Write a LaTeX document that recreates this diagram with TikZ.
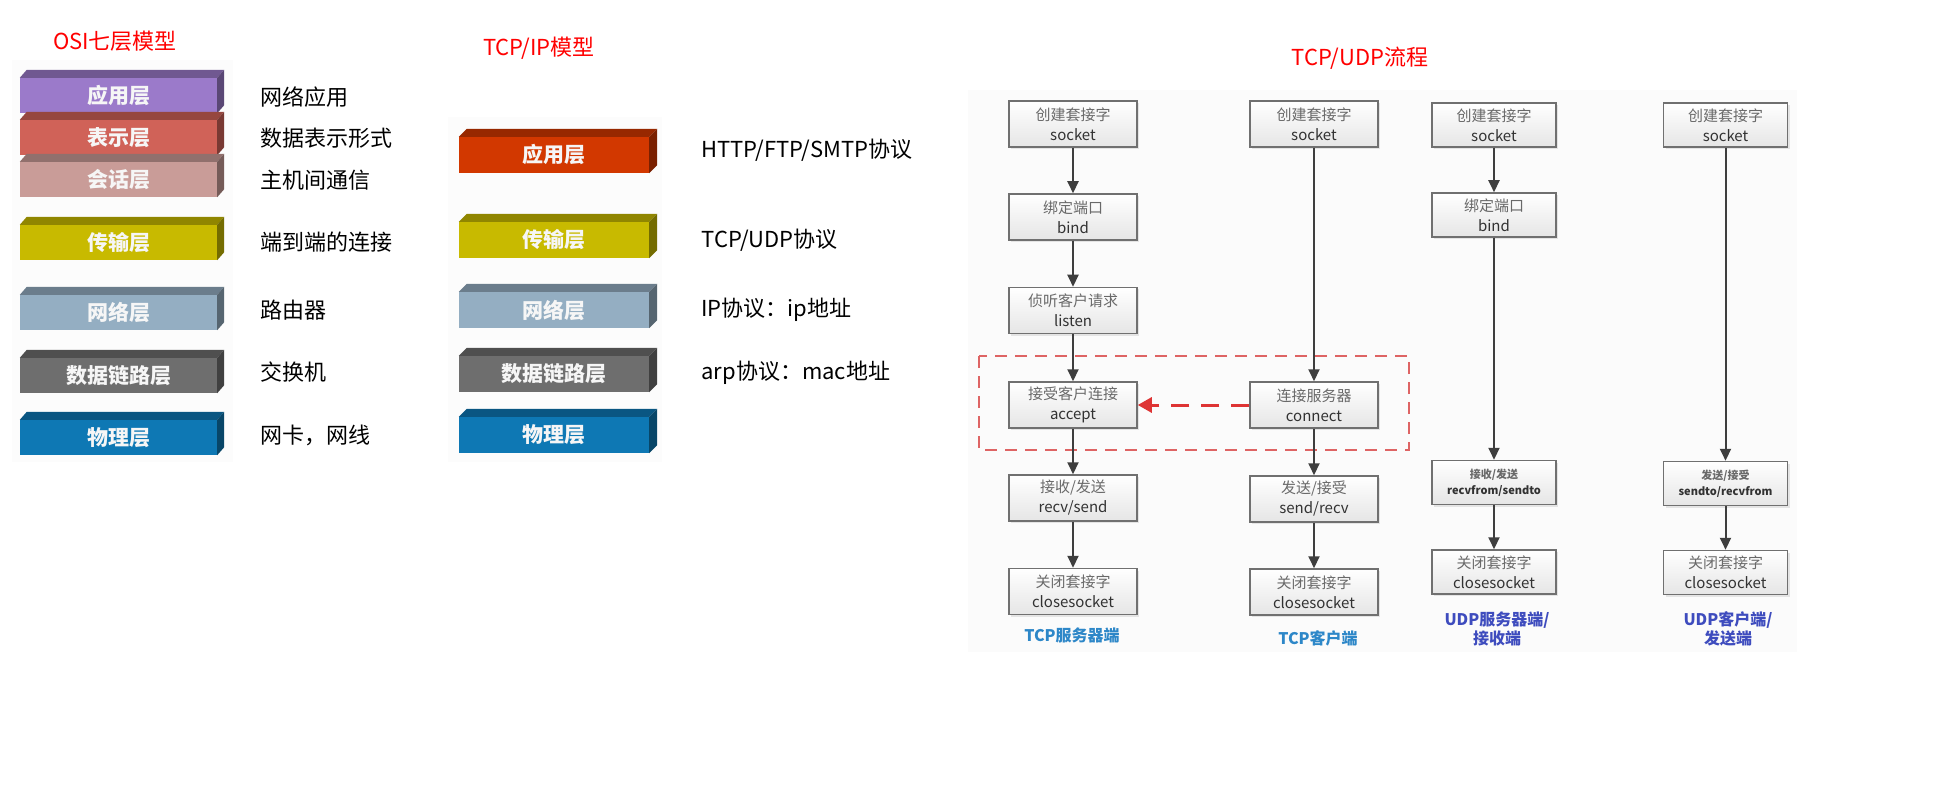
\documentclass[tikz,border=0pt]{standalone}
\usepackage{fontspec}
\setmainfont{Noto Sans CJK SC}
\usetikzlibrary{arrows.meta,shadows,calc}

\definecolor{osiapp}{RGB}{155,122,202}
\definecolor{osipre}{RGB}{208,98,88}
\definecolor{osises}{RGB}{201,156,152}
\definecolor{ositra}{RGB}{200,186,0}
\definecolor{osinet}{RGB}{148,174,194}
\definecolor{osidll}{RGB}{110,110,110}
\definecolor{osiphy}{RGB}{14,120,180}
\definecolor{tcpapp}{RGB}{210,56,0}
\definecolor{boxgray}{RGB}{112,112,112}
\definecolor{zhgray}{RGB}{105,105,105}
\definecolor{entext}{RGB}{50,50,50}
\definecolor{arrowgray}{RGB}{62,62,62}
\definecolor{reqred}{RGB}{222,52,52}
\definecolor{zonered}{RGB}{222,100,100}
\definecolor{tcpblue}{RGB}{45,135,200}
\definecolor{udpblue}{RGB}{62,76,190}

\newcommand{\cnl}[1]{\textcolor{zhgray}{#1}}

\begin{document}
\begin{tikzpicture}[x=1pt, y=-1pt,
  every node/.style={font=\fontsize{22}{26}\selectfont},
  heading/.style={text=red},
  layer/.style={inner sep=0pt, minimum height=35pt, text=white!93!gray, font=\fontsize{21}{24}\selectfont\bfseries},
  note/.style={anchor=west, text=black},
  stepbox/.style={draw=boxgray, line width=1.5pt, top color=white, bottom color=gray!20, minimum width=128pt, minimum height=46pt, inner sep=0pt, align=center, text=entext, font=\fontsize{15}{20}\selectfont, drop shadow={opacity=0.18, shadow xshift=2pt, shadow yshift=-2pt}},
  udpbox/.style={stepbox, minimum width=124pt, minimum height=44pt},
  smallbox/.style={udpbox, font=\fontsize{11}{16}\selectfont\bfseries},
  side/.style={font=\fontsize{16}{19}\selectfont\bfseries, align=center},
  flow/.style={line width=2pt, draw=arrowgray, -{Triangle[length=12pt, width=11pt]}},
  request/.style={line width=3pt, draw=reqred, dash pattern=on 18pt off 12pt, -{Triangle[length=14pt, width=15pt]}},
  zone/.style={draw=zonered, line width=1.8pt, dash pattern=on 12pt off 8pt}
]
\useasboundingbox (0,0) rectangle (1938,810);

% screenshot panels
\fill[gray!2] (12,60) rectangle (233,462);
\fill[gray!2] (448,117) rectangle (662,462);
\fill[gray!3] (968,90) rectangle (1797,652);

% titles
\node[heading] (osititle) at (115,41) {OSI七层模型};
\node[heading] (tcpiptitle) at (539,48) {TCP/IP模型};
\node[heading] (flowtitle) at (1360,58) {TCP/UDP流程};

% OSI seven layers
\foreach \n/\cy/\c/\t in {app/95.5/osiapp/应用层, pre/137.5/osipre/表示层, ses/179.5/osises/会话层, tra/242.5/ositra/传输层, net/312.5/osinet/网络层, dll/375.5/osidll/数据链路层, phy/437.5/osiphy/物理层} {
  \node[layer, fill=\c, minimum width=197pt] (osi\n) at (118.5,\cy) {\t};
  \fill[\c!72!black] (osi\n.north west) -- ++(7,-8) -- ($(osi\n.north east)+(7,-8)$) -- (osi\n.north east) -- cycle;
  \fill[\c!58!black] (osi\n.north east) -- ++(7,-8) -- ($(osi\n.south east)+(7,-8)$) -- (osi\n.south east) -- cycle;
}
\foreach \n/\cy/\t in {app/97/网络应用, pre/138/数据表示形式, ses/180/主机间通信, tra/242/端到端的连接, net/310/路由器, dll/372/交换机, phy/435/网卡，网线}
  \node[note] (osinote\n) at (257,\cy) {\t};

% TCP/IP layers
\foreach \n/\cy/\c/\t in {app/155/tcpapp/应用层, tra/240/ositra/传输层, net/310/osinet/网络层, dll/374/osidll/数据链路层, phy/435/osiphy/物理层} {
  \node[layer, fill=\c, minimum width=190pt, minimum height=36pt] (tcp\n) at (554,\cy) {\t};
  \fill[\c!72!black] (tcp\n.north west) -- ++(8,-8) -- ($(tcp\n.north east)+(8,-8)$) -- (tcp\n.north east) -- cycle;
  \fill[\c!58!black] (tcp\n.north east) -- ++(8,-8) -- ($(tcp\n.south east)+(8,-8)$) -- (tcp\n.south east) -- cycle;
}
\node[note] (tcpnoteapp) at (698,150) {HTTP/FTP/SMTP协议};
\node[note] (tcpnotetra) at (698,240) {TCP/UDP协议};
\node[note] (tcpnotenet) at (698,310) {IP协议：ip地址};
\node[note] (tcpnotedll) at (698,373) {arp协议：mac地址};

% TCP/UDP flow
\draw[zone] (979,356) rectangle (1409,450);

\node[stepbox] (s1) at (1073,124) {\cnl{创建套接字}\\socket};
\node[stepbox] (b1) at (1073,217) {\cnl{绑定端口}\\bind};
\node[stepbox] (l1) at (1073,310.5) {\cnl{侦听客户请求}\\listen};
\node[stepbox] (a1) at (1073,405) {\cnl{接受客户连接}\\accept};
\node[stepbox] (r1) at (1073,498) {\cnl{接收/发送}\\recv/send};
\node[stepbox] (c1) at (1073,591.5) {\cnl{关闭套接字}\\closesocket};

\node[stepbox] (s2) at (1314,124) {\cnl{创建套接字}\\socket};
\node[stepbox] (k2) at (1314,405) {\cnl{连接服务器}\\connect};
\node[stepbox] (r2) at (1314,499) {\cnl{发送/接受}\\send/recv};
\node[stepbox] (c2) at (1314,592) {\cnl{关闭套接字}\\closesocket};

\node[udpbox] (s3) at (1494,125) {\cnl{创建套接字}\\socket};
\node[udpbox] (b3) at (1494,215) {\cnl{绑定端口}\\bind};
\node[smallbox] (r3) at (1494,482.5) {\cnl{接收/发送}\\recvfrom/sendto};
\node[udpbox] (c3) at (1494,572) {\cnl{关闭套接字}\\closesocket};

\node[udpbox] (s4) at (1725.5,125) {\cnl{创建套接字}\\socket};
\node[smallbox] (r4) at (1725.5,483.5) {\cnl{发送/接受}\\sendto/recvfrom};
\node[udpbox] (c4) at (1725.5,572.5) {\cnl{关闭套接字}\\closesocket};

\node[side, text=tcpblue] (srv1) at (1072,635) {TCP服务器端};
\node[side, text=tcpblue] (cli2) at (1318,638) {TCP客户端};
\node[side, text=udpblue] (srv3) at (1497,629) {UDP服务器端/\\接收端};
\node[side, text=udpblue] (cli4) at (1728,629) {UDP客户端/\\发送端};

\draw[flow] (s1) -- (b1);
\draw[flow] (b1) -- (l1);
\draw[flow] (l1) -- (a1);
\draw[flow] (a1) -- (r1);
\draw[flow] (r1) -- (c1);
\draw[flow] (s2) -- (k2);
\draw[flow] (k2) -- (r2);
\draw[flow] (r2) -- (c2);
\draw[flow] (s3) -- (b3);
\draw[flow] (b3) -- (r3);
\draw[flow] (r3) -- (c3);
\draw[flow] (s4) -- (r4);
\draw[flow] (r4) -- (c4);
\draw[request] (k2) -- (a1);
\end{tikzpicture}
\end{document}
